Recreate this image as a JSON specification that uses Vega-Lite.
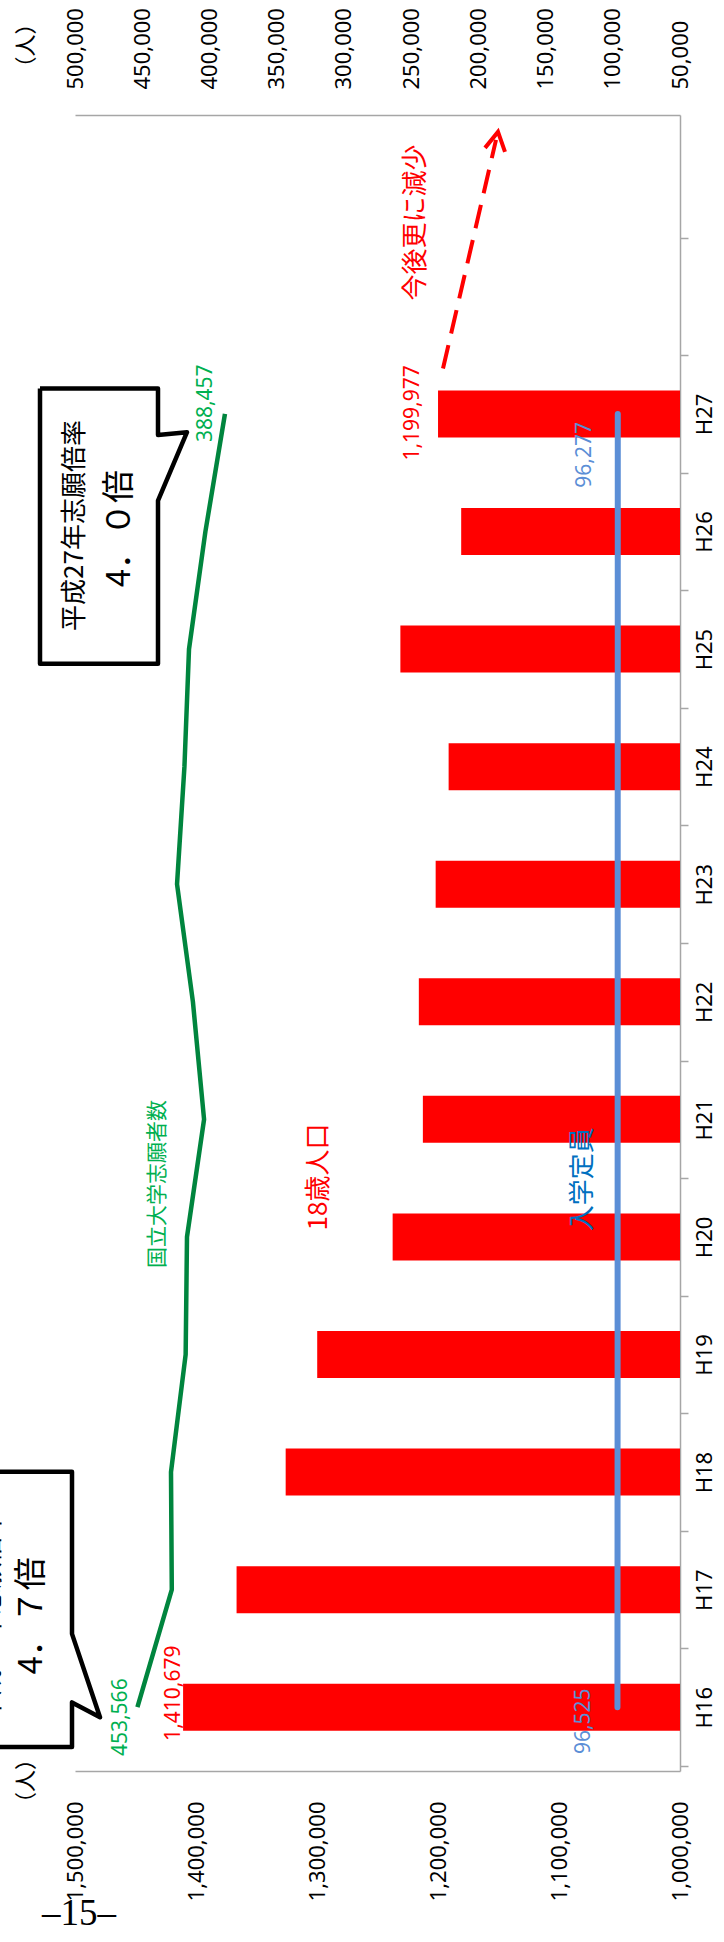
{
  "$schema": "https://vega.github.io/schema/vega-lite/v6.json",
  "width": 605,
  "height": 1656,
  "autosize": {"type": "none"},
  "padding": {"left": 75, "top": 115, "right": 44, "bottom": 171},
  "background": "white",
  "config": {
    "view": {"stroke": null},
    "axis": {"grid": false, "domainColor": "#A6A6A6", "domainWidth": 1.5, "tickColor": "#A6A6A6", "tickWidth": 1.5, "labelFont": "Noto Sans", "labelFontSize": 22, "labelColor": "#000000", "title": null}
  },
  "datasets": {
    "main": [
      {"year": 16, "pop": 1410679, "applicants": 453566, "capacity": 96525},
      {"year": 17, "pop": 1366471, "applicants": 428000, "capacity": 96480},
      {"year": 18, "pop": 1325893, "applicants": 428600, "capacity": 96440},
      {"year": 19, "pop": 1299830, "applicants": 417700, "capacity": 96410},
      {"year": 20, "pop": 1237485, "applicants": 416700, "capacity": 96400},
      {"year": 21, "pop": 1212504, "applicants": 404000, "capacity": 96370},
      {"year": 22, "pop": 1215843, "applicants": 412300, "capacity": 96360},
      {"year": 23, "pop": 1201934, "applicants": 424100, "capacity": 96340},
      {"year": 24, "pop": 1191219, "applicants": 418600, "capacity": 96320},
      {"year": 25, "pop": 1231096, "applicants": 415200, "capacity": 96300},
      {"year": 26, "pop": 1180838, "applicants": 403000, "capacity": 96290},
      {"year": 27, "pop": 1199977, "applicants": 388457, "capacity": 96277}
    ],
    "callouts": [
      {"shape": "b27", "i": 0, "x": 1528926, "y": 27.217},
      {"shape": "b27", "i": 1, "x": 1431405, "y": 27.217},
      {"shape": "b27", "i": 2, "x": 1431405, "y": 26.820},
      {"shape": "b27", "i": 3, "x": 1407438, "y": 26.845},
      {"shape": "b27", "i": 4, "x": 1431405, "y": 26.262},
      {"shape": "b27", "i": 5, "x": 1431405, "y": 24.876},
      {"shape": "b27", "i": 6, "x": 1528926, "y": 24.876},
      {"shape": "b27", "i": 7, "x": 1528926, "y": 27.217},
      {"shape": "b16", "i": 0, "x": 1600000, "y": 18.002},
      {"shape": "b16", "i": 1, "x": 1502479, "y": 18.002},
      {"shape": "b16", "i": 2, "x": 1502479, "y": 16.624},
      {"shape": "b16", "i": 3, "x": 1479339, "y": 15.914},
      {"shape": "b16", "i": 4, "x": 1502479, "y": 16.041},
      {"shape": "b16", "i": 5, "x": 1502479, "y": 15.661},
      {"shape": "b16", "i": 6, "x": 1600000, "y": 15.661}
    ],
    "arrowShaft": [
      {"i": 0, "x": 1195868, "y": 27.386},
      {"i": 1, "x": 1152066, "y": 29.331}
    ],
    "arrowHead": [
      {"i": 0, "x": 1161157, "y": 29.263},
      {"i": 1, "x": 1150413, "y": 29.399},
      {"i": 2, "x": 1144628, "y": 29.229}
    ],
    "one": [{}]
  },
  "layer": [
    {
      "layer": [
        {
          "data": {"name": "main"},
          "mark": {"type": "bar", "color": "#FF0000", "orient": "horizontal", "size": 47},
          "encoding": {
            "x": {"field": "pop", "type": "quantitative",
              "scale": {"domain": [1000000, 1500000], "reverse": true, "nice": false, "zero": false},
              "axis": {"orient": "bottom", "values": [1000000, 1100000, 1200000, 1300000, 1400000, 1500000], "labelExpr": "format(datum.value, ',')", "labelAngle": 270, "labelAlign": "right", "labelBaseline": "middle", "ticks": false, "labelPadding": 30, "labelOverlap": false, "labelBound": false}},
            "x2": {"datum": 1000000},
            "y": {"field": "year", "type": "quantitative",
              "scale": {"domain": [15.5, 29.5], "nice": false, "zero": false},
              "axis": {"orient": "right", "values": [15.5, 16, 16.5, 17, 17.5, 18, 18.5, 19, 19.5, 20, 20.5, 21, 21.5, 22, 22.5, 23, 23.5, 24, 24.5, 25, 25.5, 26, 26.5, 27, 27.5, 28.5],
                "labelExpr": "datum.value % 1 == 0 ? 'H' + datum.value : ''",
                "labelAngle": 270, "labelAlign": "center", "labelBaseline": "top", "tickSize": 8, "labelPadding": 6,
                "tickOpacity": {"condition": {"test": "datum.value % 1 != 0", "value": 1}, "value": 0},
                "labelOverlap": false, "labelBound": false}}
          }
        },
        {
          "data": {"name": "main"},
          "transform": [{"filter": "datum.year == 16"}],
          "mark": {"type": "text", "angle": 270, "align": "center", "baseline": "middle", "font": "Noto Sans", "fontSize": 21, "color": "#FF0000", "dx": 14, "dy": -9.5},
          "encoding": {
            "x": {"field": "pop", "type": "quantitative"},
            "y": {"field": "year", "type": "quantitative"},
            "text": {"field": "pop", "type": "quantitative", "format": ","}
          }
        },
        {
          "data": {"name": "main"},
          "transform": [{"filter": "datum.year == 27"}],
          "mark": {"type": "text", "angle": 270, "align": "center", "baseline": "middle", "font": "Noto Sans", "fontSize": 21, "color": "#FF0000", "dx": 1, "dy": -25.5},
          "encoding": {
            "x": {"field": "pop", "type": "quantitative"},
            "y": {"field": "year", "type": "quantitative"},
            "text": {"field": "pop", "type": "quantitative", "format": ","}
          }
        },
        {
          "data": {"name": "callouts"},
          "mark": {"type": "line", "color": "#000000", "strokeWidth": 4.5, "strokeJoin": "round"},
          "encoding": {
            "x": {"field": "x", "type": "quantitative"},
            "y": {"field": "y", "type": "quantitative"},
            "order": {"field": "i", "type": "quantitative"},
            "detail": {"field": "shape", "type": "nominal"}
          }
        },
        {
          "data": {"name": "arrowShaft"},
          "mark": {"type": "line", "color": "#FF0000", "strokeWidth": 4, "strokeDash": [24, 12]},
          "encoding": {
            "x": {"field": "x", "type": "quantitative"},
            "y": {"field": "y", "type": "quantitative"},
            "order": {"field": "i", "type": "quantitative"}
          }
        },
        {
          "data": {"name": "arrowHead"},
          "mark": {"type": "line", "color": "#FF0000", "strokeWidth": 4, "strokeJoin": "miter"},
          "encoding": {
            "x": {"field": "x", "type": "quantitative"},
            "y": {"field": "y", "type": "quantitative"},
            "order": {"field": "i", "type": "quantitative"}
          }
        },
        {
          "data": {"name": "one"},
          "mark": {"type": "text", "text": "今後更に減少", "angle": 270, "align": "center", "baseline": "middle", "font": "Noto Sans CJK JP", "fontSize": 26, "color": "#FF0000"},
          "encoding": {"x": {"datum": 1217769, "type": "quantitative"}, "y": {"datum": 28.629, "type": "quantitative"}}
        },
        {
          "data": {"name": "one"},
          "mark": {"type": "text", "text": "18歳人口", "angle": 270, "align": "center", "baseline": "middle", "font": "Noto Sans CJK JP", "fontSize": 26, "color": "#FF0000"},
          "encoding": {"x": {"datum": 1298347, "type": "quantitative"}, "y": {"datum": 20.51, "type": "quantitative"}}
        },
        {
          "data": {"name": "one"},
          "mark": {"type": "text", "text": "国立大学志願者数", "angle": 270, "align": "center", "baseline": "middle", "font": "Noto Sans CJK JP", "fontSize": 21, "color": "#00B050"},
          "encoding": {"x": {"datum": 1431405, "type": "quantitative"}, "y": {"datum": 20.45, "type": "quantitative"}}
        },
        {
          "data": {"name": "one"},
          "mark": {"type": "text", "text": "入学定員", "angle": 270, "align": "center", "baseline": "middle", "font": "Noto Sans CJK JP", "fontSize": 26, "color": "#0070C0"},
          "encoding": {"x": {"datum": 1080165, "type": "quantitative"}, "y": {"datum": 20.49, "type": "quantitative"}}
        },
        {
          "data": {"name": "one"},
          "mark": {"type": "text", "text": "平成27年志願倍率", "angle": 270, "align": "center", "baseline": "middle", "font": "Noto Sans CJK JP", "fontSize": 26, "color": "#000000"},
          "encoding": {"x": {"datum": 1500000, "type": "quantitative"}, "y": {"datum": 26.051, "type": "quantitative"}}
        },
        {
          "data": {"name": "one"},
          "mark": {"type": "text", "text": "4．０倍", "angle": 270, "align": "center", "baseline": "middle", "font": "Noto Sans CJK JP", "fontSize": 33, "color": "#000000"},
          "encoding": {"x": {"datum": 1462810, "type": "quantitative"}, "y": {"datum": 26.025, "type": "quantitative"}}
        },
        {
          "data": {"name": "one"},
          "mark": {"type": "text", "text": "平成16年志願倍率", "angle": 270, "align": "center", "baseline": "middle", "font": "Noto Sans CJK JP", "fontSize": 26, "color": "#000000"},
          "encoding": {"x": {"datum": 1569421, "type": "quantitative"}, "y": {"datum": 16.777, "type": "quantitative"}}
        },
        {
          "data": {"name": "one"},
          "mark": {"type": "text", "text": "4．７倍", "angle": 270, "align": "center", "baseline": "middle", "font": "Noto Sans CJK JP", "fontSize": 33, "color": "#000000"},
          "encoding": {"x": {"datum": 1535537, "type": "quantitative"}, "y": {"datum": 16.777, "type": "quantitative"}}
        },
        {
          "data": {"name": "one"},
          "mark": {"type": "text", "text": "（人）", "angle": 270, "align": "center", "baseline": "middle", "font": "Noto Sans CJK JP", "fontSize": 22, "color": "#000000"},
          "encoding": {"x": {"datum": 1540496, "type": "quantitative"}, "y": {"datum": 30.134, "type": "quantitative"}}
        },
        {
          "data": {"name": "one"},
          "mark": {"type": "text", "text": "（人）", "angle": 270, "align": "center", "baseline": "middle", "font": "Noto Sans CJK JP", "fontSize": 22, "color": "#000000"},
          "encoding": {"x": {"datum": 1540496, "type": "quantitative"}, "y": {"datum": 15.373, "type": "quantitative"}}
        },
        {
          "data": {"name": "one"},
          "mark": {"type": "text", "text": "–15–", "angle": 0, "align": "center", "baseline": "middle", "font": "Liberation Sans Narrow", "fontSize": 37, "color": "#000000"},
          "encoding": {"x": {"datum": 1496694, "type": "quantitative"}, "y": {"datum": 14.24, "type": "quantitative"}}
        }
      ]
    },
    {
      "data": {"name": "main"},
      "layer": [
        {
          "mark": {"type": "line", "color": "#00853E", "strokeWidth": 4.5, "strokeJoin": "round"},
          "encoding": {
            "x": {"field": "applicants", "type": "quantitative",
              "scale": {"domain": [50000, 500000], "reverse": true, "nice": false, "zero": false},
              "axis": {"orient": "top", "values": [50000, 100000, 150000, 200000, 250000, 300000, 350000, 400000, 450000, 500000], "labelExpr": "format(datum.value, ',')", "labelAngle": 270, "labelAlign": "left", "labelBaseline": "middle", "ticks": false, "labelPadding": 26, "labelOverlap": false, "labelBound": false}},
            "y": {"field": "year", "type": "quantitative"},
            "order": {"field": "year", "type": "quantitative"}
          }
        },
        {
          "mark": {"type": "line", "color": "#5B8ED6", "strokeWidth": 6, "strokeCap": "round"},
          "encoding": {
            "x": {"field": "capacity", "type": "quantitative"},
            "y": {"field": "year", "type": "quantitative"},
            "order": {"field": "year", "type": "quantitative"}
          }
        },
        {
          "transform": [{"filter": "datum.year == 16"}],
          "mark": {"type": "text", "angle": 270, "align": "center", "baseline": "middle", "font": "Noto Sans", "fontSize": 21, "color": "#00B050", "dx": -10, "dy": -16},
          "encoding": {
            "x": {"field": "applicants", "type": "quantitative"},
            "y": {"field": "year", "type": "quantitative"},
            "text": {"field": "applicants", "type": "quantitative", "format": ","}
          }
        },
        {
          "transform": [{"filter": "datum.year == 27"}],
          "mark": {"type": "text", "angle": 270, "align": "center", "baseline": "middle", "font": "Noto Sans", "fontSize": 21, "color": "#00B050", "dx": 10.7, "dy": -18.5},
          "encoding": {
            "x": {"field": "applicants", "type": "quantitative"},
            "y": {"field": "year", "type": "quantitative"},
            "text": {"field": "applicants", "type": "quantitative", "format": ","}
          }
        },
        {
          "transform": [{"filter": "datum.year == 16"}],
          "mark": {"type": "text", "angle": 270, "align": "center", "baseline": "middle", "font": "Noto Sans", "fontSize": 21, "color": "#5B8ED6", "dx": -14, "dy": -33.5},
          "encoding": {
            "x": {"field": "capacity", "type": "quantitative"},
            "y": {"field": "year", "type": "quantitative"},
            "text": {"field": "capacity", "type": "quantitative", "format": ","}
          }
        },
        {
          "transform": [{"filter": "datum.year == 27"}],
          "mark": {"type": "text", "angle": 270, "align": "center", "baseline": "middle", "font": "Noto Sans", "fontSize": 21, "color": "#5B8ED6", "dx": -41, "dy": -32.6},
          "encoding": {
            "x": {"field": "capacity", "type": "quantitative"},
            "y": {"field": "year", "type": "quantitative"},
            "text": {"field": "capacity", "type": "quantitative", "format": ","}
          }
        }
      ]
    }
  ],
  "resolve": {"scale": {"x": "independent"}, "axis": {"x": "independent"}}
}
